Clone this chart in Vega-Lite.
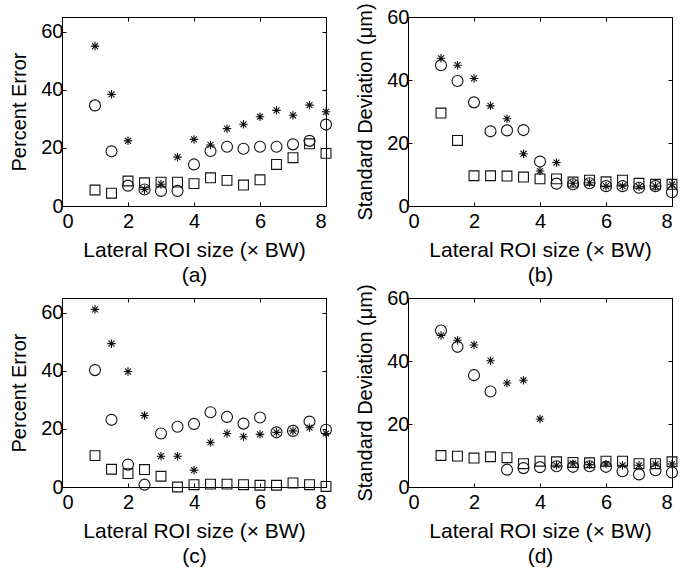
{
"$schema": "https://vega.github.io/schema/vega-lite/v6.json",
"padding": {"left": 9, "top": 2, "right": 0, "bottom": 0},
"bounds": "flush",
"config": {
 "font": "Liberation Sans",
 "view": {"stroke": "black", "strokeWidth": 1},
 "axis": {"grid": false, "domainColor": "black", "tickColor": "black", "labelColor": "black", "titleColor": "black", "labelFont": "Liberation Sans", "titleFont": "Liberation Sans", "labelFontSize": 20, "titleFontSize": 20, "titleFontWeight": "normal", "tickSize": -4, "labelPadding": 6, "titleLineHeight": 25},
 "axisX": {"titleFontSize": 21, "labelPadding": 9, "titlePadding": 8},
 "axisY": {"labelPadding": 3, "titlePadding": 11}
},
"spacing": {"row": 92, "column": 82},
"columns": 2,
"datasets": {"d": [
{"p":"a","s":"st","x":1,"v":55.0},{"p":"a","s":"st","x":1.5,"v":38.4},{"p":"a","s":"st","x":2,"v":22.4},{"p":"a","s":"st","x":2.5,"v":5.7},{"p":"a","s":"st","x":3,"v":7.5},{"p":"a","s":"st","x":3.5,"v":16.8},{"p":"a","s":"st","x":4,"v":22.9},{"p":"a","s":"st","x":4.5,"v":21.0},{"p":"a","s":"st","x":5,"v":26.6},{"p":"a","s":"st","x":5.5,"v":28.1},{"p":"a","s":"st","x":6,"v":30.7},{"p":"a","s":"st","x":6.5,"v":32.9},{"p":"a","s":"st","x":7,"v":31.2},{"p":"a","s":"st","x":7.5,"v":34.7},{"p":"a","s":"st","x":8,"v":32.4},
{"p":"a","s":"o","x":1,"v":34.6},{"p":"a","s":"o","x":1.5,"v":18.8},{"p":"a","s":"o","x":2,"v":7.0},{"p":"a","s":"o","x":2.5,"v":5.7},{"p":"a","s":"o","x":3,"v":5.2},{"p":"a","s":"o","x":3.5,"v":5.2},{"p":"a","s":"o","x":4,"v":14.3},{"p":"a","s":"o","x":4.5,"v":18.9},{"p":"a","s":"o","x":5,"v":20.4},{"p":"a","s":"o","x":5.5,"v":19.7},{"p":"a","s":"o","x":6,"v":20.4},{"p":"a","s":"o","x":6.5,"v":20.4},{"p":"a","s":"o","x":7,"v":21.2},{"p":"a","s":"o","x":7.5,"v":22.4},{"p":"a","s":"o","x":8,"v":28.0},
{"p":"a","s":"sq","x":1,"v":5.5},{"p":"a","s":"sq","x":1.5,"v":4.4},{"p":"a","s":"sq","x":2,"v":8.6},{"p":"a","s":"sq","x":2.5,"v":8.0},{"p":"a","s":"sq","x":3,"v":8.2},{"p":"a","s":"sq","x":3.5,"v":8.2},{"p":"a","s":"sq","x":4,"v":7.7},{"p":"a","s":"sq","x":4.5,"v":9.7},{"p":"a","s":"sq","x":5,"v":8.8},{"p":"a","s":"sq","x":5.5,"v":7.2},{"p":"a","s":"sq","x":6,"v":9.0},{"p":"a","s":"sq","x":6.5,"v":14.3},{"p":"a","s":"sq","x":7,"v":16.6},{"p":"a","s":"sq","x":7.5,"v":21.4},{"p":"a","s":"sq","x":8,"v":18.1},
{"p":"b","s":"st","x":1,"v":46.9},{"p":"b","s":"st","x":1.5,"v":44.7},{"p":"b","s":"st","x":2,"v":40.5},{"p":"b","s":"st","x":2.5,"v":31.8},{"p":"b","s":"st","x":3,"v":27.7},{"p":"b","s":"st","x":3.5,"v":16.6},{"p":"b","s":"st","x":4,"v":11.1},{"p":"b","s":"st","x":4.5,"v":13.8},{"p":"b","s":"st","x":5,"v":7.2},{"p":"b","s":"st","x":5.5,"v":7.4},{"p":"b","s":"st","x":6,"v":6.3},{"p":"b","s":"st","x":6.5,"v":6.3},{"p":"b","s":"st","x":7,"v":6.1},{"p":"b","s":"st","x":7.5,"v":6.3},{"p":"b","s":"st","x":8,"v":6.9},
{"p":"b","s":"o","x":1,"v":44.7},{"p":"b","s":"o","x":1.5,"v":39.7},{"p":"b","s":"o","x":2,"v":32.9},{"p":"b","s":"o","x":2.5,"v":23.7},{"p":"b","s":"o","x":3,"v":24.0},{"p":"b","s":"o","x":3.5,"v":24.1},{"p":"b","s":"o","x":4,"v":14.1},{"p":"b","s":"o","x":4.5,"v":7.1},{"p":"b","s":"o","x":5,"v":6.9},{"p":"b","s":"o","x":5.5,"v":7.2},{"p":"b","s":"o","x":6,"v":6.3},{"p":"b","s":"o","x":6.5,"v":6.3},{"p":"b","s":"o","x":7,"v":5.8},{"p":"b","s":"o","x":7.5,"v":6.3},{"p":"b","s":"o","x":8,"v":4.4},
{"p":"b","s":"sq","x":1,"v":29.5},{"p":"b","s":"sq","x":1.5,"v":20.8},{"p":"b","s":"sq","x":2,"v":9.6},{"p":"b","s":"sq","x":2.5,"v":9.6},{"p":"b","s":"sq","x":3,"v":9.5},{"p":"b","s":"sq","x":3.5,"v":9.2},{"p":"b","s":"sq","x":4,"v":8.6},{"p":"b","s":"sq","x":4.5,"v":8.6},{"p":"b","s":"sq","x":5,"v":7.6},{"p":"b","s":"sq","x":5.5,"v":8.2},{"p":"b","s":"sq","x":6,"v":7.7},{"p":"b","s":"sq","x":6.5,"v":8.2},{"p":"b","s":"sq","x":7,"v":7.2},{"p":"b","s":"sq","x":7.5,"v":6.9},{"p":"b","s":"sq","x":8,"v":6.9},
{"p":"c","s":"st","x":1,"v":61.1},{"p":"c","s":"st","x":1.5,"v":49.3},{"p":"c","s":"st","x":2,"v":39.7},{"p":"c","s":"st","x":2.5,"v":24.6},{"p":"c","s":"st","x":3,"v":10.6},{"p":"c","s":"st","x":3.5,"v":10.6},{"p":"c","s":"st","x":4,"v":5.8},{"p":"c","s":"st","x":4.5,"v":15.3},{"p":"c","s":"st","x":5,"v":18.4},{"p":"c","s":"st","x":5.5,"v":17.3},{"p":"c","s":"st","x":6,"v":18.1},{"p":"c","s":"st","x":6.5,"v":18.8},{"p":"c","s":"st","x":7,"v":19.3},{"p":"c","s":"st","x":7.5,"v":20.4},{"p":"c","s":"st","x":8,"v":18.4},
{"p":"c","s":"o","x":1,"v":40.2},{"p":"c","s":"o","x":1.5,"v":23.1},{"p":"c","s":"o","x":2,"v":7.7},{"p":"c","s":"o","x":2.5,"v":0.8},{"p":"c","s":"o","x":3,"v":18.4},{"p":"c","s":"o","x":3.5,"v":20.7},{"p":"c","s":"o","x":4,"v":21.7},{"p":"c","s":"o","x":4.5,"v":25.7},{"p":"c","s":"o","x":5,"v":24.1},{"p":"c","s":"o","x":5.5,"v":21.8},{"p":"c","s":"o","x":6,"v":23.9},{"p":"c","s":"o","x":6.5,"v":18.8},{"p":"c","s":"o","x":7,"v":19.3},{"p":"c","s":"o","x":7.5,"v":22.5},{"p":"c","s":"o","x":8,"v":19.7},
{"p":"c","s":"sq","x":1,"v":10.8},{"p":"c","s":"sq","x":1.5,"v":6.1},{"p":"c","s":"sq","x":2,"v":4.6},{"p":"c","s":"sq","x":2.5,"v":6.0},{"p":"c","s":"sq","x":3,"v":3.7},{"p":"c","s":"sq","x":3.5,"v":0.0},{"p":"c","s":"sq","x":4,"v":0.8},{"p":"c","s":"sq","x":4.5,"v":1.0},{"p":"c","s":"sq","x":5,"v":1.0},{"p":"c","s":"sq","x":5.5,"v":0.8},{"p":"c","s":"sq","x":6,"v":0.6},{"p":"c","s":"sq","x":6.5,"v":0.6},{"p":"c","s":"sq","x":7,"v":1.4},{"p":"c","s":"sq","x":7.5,"v":0.8},{"p":"c","s":"sq","x":8,"v":0.2},
{"p":"d","s":"st","x":1,"v":48.1},{"p":"d","s":"st","x":1.5,"v":46.6},{"p":"d","s":"st","x":2,"v":45.1},{"p":"d","s":"st","x":2.5,"v":40.1},{"p":"d","s":"st","x":3,"v":33.0},{"p":"d","s":"st","x":3.5,"v":33.9},{"p":"d","s":"st","x":4,"v":21.6},{"p":"d","s":"st","x":4.5,"v":6.9},{"p":"d","s":"st","x":5,"v":7.4},{"p":"d","s":"st","x":5.5,"v":7.1},{"p":"d","s":"st","x":6,"v":7.3},{"p":"d","s":"st","x":6.5,"v":6.9},{"p":"d","s":"st","x":7,"v":6.9},{"p":"d","s":"st","x":7.5,"v":7.3},{"p":"d","s":"st","x":8,"v":7.3},
{"p":"d","s":"o","x":1,"v":49.7},{"p":"d","s":"o","x":1.5,"v":44.5},{"p":"d","s":"o","x":2,"v":35.5},{"p":"d","s":"o","x":2.5,"v":30.3},{"p":"d","s":"o","x":3,"v":5.5},{"p":"d","s":"o","x":3.5,"v":6.0},{"p":"d","s":"o","x":4,"v":6.3},{"p":"d","s":"o","x":4.5,"v":6.6},{"p":"d","s":"o","x":5,"v":6.4},{"p":"d","s":"o","x":5.5,"v":6.6},{"p":"d","s":"o","x":6,"v":6.4},{"p":"d","s":"o","x":6.5,"v":5.0},{"p":"d","s":"o","x":7,"v":4.0},{"p":"d","s":"o","x":7.5,"v":5.3},{"p":"d","s":"o","x":8,"v":4.6},
{"p":"d","s":"sq","x":1,"v":10.0},{"p":"d","s":"sq","x":1.5,"v":9.8},{"p":"d","s":"sq","x":2,"v":9.2},{"p":"d","s":"sq","x":2.5,"v":9.6},{"p":"d","s":"sq","x":3,"v":9.3},{"p":"d","s":"sq","x":3.5,"v":7.4},{"p":"d","s":"sq","x":4,"v":8.2},{"p":"d","s":"sq","x":4.5,"v":8.0},{"p":"d","s":"sq","x":5,"v":7.8},{"p":"d","s":"sq","x":5.5,"v":7.7},{"p":"d","s":"sq","x":6,"v":8.2},{"p":"d","s":"sq","x":6.5,"v":8.2},{"p":"d","s":"sq","x":7,"v":7.4},{"p":"d","s":"sq","x":7.5,"v":7.4},{"p":"d","s":"sq","x":8,"v":8.0}
]},
"concat": [
 {"width": 264, "height": 189, "data": {"name": "d"}, "transform": [{"filter": "datum.p == 'a'"}],
  "layer": [
   {"mark": {"type": "point", "filled": false, "stroke": "#111", "opacity": 1},
    "encoding": {
     "x": {"field": "x", "type": "quantitative", "scale": {"domain": [0, 8]}, "axis": {"values": [0, 2, 4, 6, 8], "title": ["Lateral ROI size (× BW)", "(a)"]}},
     "y": {"field": "v", "type": "quantitative", "scale": {"domain": [0, 65]}, "axis": {"values": [0, 20, 40, 60], "title": "Percent Error"}},
     "shape": {"field": "s", "type": "nominal", "scale": {"domain": ["o", "sq", "st"], "range": ["circle", "square", "M-1,0L1,0M0,-1L0,1M-0.7,-0.7L0.7,0.7M-0.7,0.7L0.7,-0.7"]}, "legend": null},
     "size": {"field": "s", "type": "nominal", "scale": {"domain": ["o", "sq", "st"], "range": [121, 72, 150]}, "legend": null},
     "strokeWidth": {"field": "s", "type": "nominal", "scale": {"domain": ["o", "sq", "st"], "range": [1.1, 1.1, 1.4]}, "legend": null}
    }},
   {"mark": {"type": "point", "opacity": 0},
    "encoding": {
     "x": {"field": "x", "type": "quantitative", "axis": {"orient": "top", "values": [0, 2, 4, 6, 8], "labels": false, "title": null}},
     "y": {"field": "v", "type": "quantitative", "axis": {"orient": "right", "values": [0, 20, 40, 60], "labels": false, "title": null}}
    }}
  ],
  "resolve": {"axis": {"x": "independent", "y": "independent"}}
 },
 {"width": 264, "height": 189, "data": {"name": "d"}, "transform": [{"filter": "datum.p == 'b'"}],
  "layer": [
   {"mark": {"type": "point", "filled": false, "stroke": "#111", "opacity": 1},
    "encoding": {
     "x": {"field": "x", "type": "quantitative", "scale": {"domain": [0, 8]}, "axis": {"values": [0, 2, 4, 6, 8], "title": ["Lateral ROI size (× BW)", "(b)"]}},
     "y": {"field": "v", "type": "quantitative", "scale": {"domain": [0, 60]}, "axis": {"values": [0, 20, 40, 60], "title": "Standard Deviation (μm)"}},
     "shape": {"field": "s", "type": "nominal", "scale": {"domain": ["o", "sq", "st"], "range": ["circle", "square", "M-1,0L1,0M0,-1L0,1M-0.7,-0.7L0.7,0.7M-0.7,0.7L0.7,-0.7"]}, "legend": null},
     "size": {"field": "s", "type": "nominal", "scale": {"domain": ["o", "sq", "st"], "range": [121, 72, 150]}, "legend": null},
     "strokeWidth": {"field": "s", "type": "nominal", "scale": {"domain": ["o", "sq", "st"], "range": [1.1, 1.1, 1.4]}, "legend": null}
    }},
   {"mark": {"type": "point", "opacity": 0},
    "encoding": {
     "x": {"field": "x", "type": "quantitative", "axis": {"orient": "top", "values": [0, 2, 4, 6, 8], "labels": false, "title": null}},
     "y": {"field": "v", "type": "quantitative", "axis": {"orient": "right", "values": [0, 20, 40, 60], "labels": false, "title": null}}
    }}
  ],
  "resolve": {"axis": {"x": "independent", "y": "independent"}}
 },
 {"width": 264, "height": 189, "data": {"name": "d"}, "transform": [{"filter": "datum.p == 'c'"}],
  "layer": [
   {"mark": {"type": "point", "filled": false, "stroke": "#111", "opacity": 1},
    "encoding": {
     "x": {"field": "x", "type": "quantitative", "scale": {"domain": [0, 8]}, "axis": {"values": [0, 2, 4, 6, 8], "title": ["Lateral ROI size (× BW)", "(c)"]}},
     "y": {"field": "v", "type": "quantitative", "scale": {"domain": [0, 65]}, "axis": {"values": [0, 20, 40, 60], "title": "Percent Error"}},
     "shape": {"field": "s", "type": "nominal", "scale": {"domain": ["o", "sq", "st"], "range": ["circle", "square", "M-1,0L1,0M0,-1L0,1M-0.7,-0.7L0.7,0.7M-0.7,0.7L0.7,-0.7"]}, "legend": null},
     "size": {"field": "s", "type": "nominal", "scale": {"domain": ["o", "sq", "st"], "range": [121, 72, 150]}, "legend": null},
     "strokeWidth": {"field": "s", "type": "nominal", "scale": {"domain": ["o", "sq", "st"], "range": [1.1, 1.1, 1.4]}, "legend": null}
    }},
   {"mark": {"type": "point", "opacity": 0},
    "encoding": {
     "x": {"field": "x", "type": "quantitative", "axis": {"orient": "top", "values": [0, 2, 4, 6, 8], "labels": false, "title": null}},
     "y": {"field": "v", "type": "quantitative", "axis": {"orient": "right", "values": [0, 20, 40, 60], "labels": false, "title": null}}
    }}
  ],
  "resolve": {"axis": {"x": "independent", "y": "independent"}}
 },
 {"width": 264, "height": 189, "data": {"name": "d"}, "transform": [{"filter": "datum.p == 'd'"}],
  "layer": [
   {"mark": {"type": "point", "filled": false, "stroke": "#111", "opacity": 1},
    "encoding": {
     "x": {"field": "x", "type": "quantitative", "scale": {"domain": [0, 8]}, "axis": {"values": [0, 2, 4, 6, 8], "title": ["Lateral ROI size (× BW)", "(d)"]}},
     "y": {"field": "v", "type": "quantitative", "scale": {"domain": [0, 60]}, "axis": {"values": [0, 20, 40, 60], "title": "Standard Deviation (μm)"}},
     "shape": {"field": "s", "type": "nominal", "scale": {"domain": ["o", "sq", "st"], "range": ["circle", "square", "M-1,0L1,0M0,-1L0,1M-0.7,-0.7L0.7,0.7M-0.7,0.7L0.7,-0.7"]}, "legend": null},
     "size": {"field": "s", "type": "nominal", "scale": {"domain": ["o", "sq", "st"], "range": [121, 72, 150]}, "legend": null},
     "strokeWidth": {"field": "s", "type": "nominal", "scale": {"domain": ["o", "sq", "st"], "range": [1.1, 1.1, 1.4]}, "legend": null}
    }},
   {"mark": {"type": "point", "opacity": 0},
    "encoding": {
     "x": {"field": "x", "type": "quantitative", "axis": {"orient": "top", "values": [0, 2, 4, 6, 8], "labels": false, "title": null}},
     "y": {"field": "v", "type": "quantitative", "axis": {"orient": "right", "values": [0, 20, 40, 60], "labels": false, "title": null}}
    }}
  ],
  "resolve": {"axis": {"x": "independent", "y": "independent"}}
 }
]
}
